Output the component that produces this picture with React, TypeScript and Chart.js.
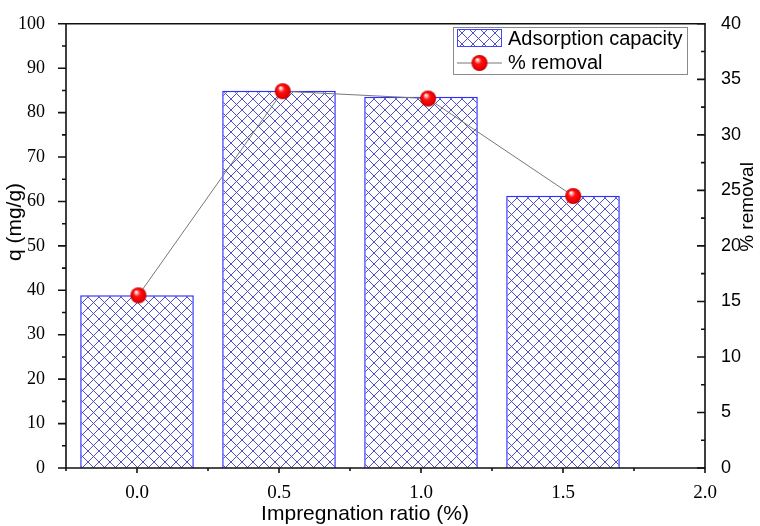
import React, { useEffect, useRef } from 'react';
import { Chart, registerables } from 'chart.js';

Chart.register(...registerables);

// ---- data ----
const barX = [0, 0.5, 1.0, 1.5];
const capacity = [38.9, 84.9, 83.6, 61.3];
const removalX = [0.005, 0.513, 1.025, 1.536];
const removal = [15.55, 33.93, 33.27, 24.49];
const xTickValues = [0, 0.5, 1.0, 1.5, 2.0];
const xMinorValues = [-0.25, 0.25, 0.75, 1.25, 1.75];
const leftTickValues = [0, 10, 20, 30, 40, 50, 60, 70, 80, 90, 100];
const rightTickValues = [0, 5, 10, 15, 20, 25, 30, 35, 40];
const barLabel = 'Adsorption capacity';
const lineLabel = '% removal';
const xTitle = 'Impregnation ratio (%)';
const yTitle = 'q (mg/g)';
const y2Title = '% removal';

const SERIF = "'Liberation Serif', 'Times New Roman', serif";
const SANS = "'Liberation Sans', Arial, sans-serif";

function makeHatchTile(): HTMLCanvasElement {
  const w = 11;
  const c = document.createElement('canvas');
  c.width = w;
  c.height = w;
  const g = c.getContext('2d')!;
  g.fillStyle = '#ffffff';
  g.fillRect(0, 0, w, w);
  g.strokeStyle = 'rgba(70, 70, 200, 0.95)';
  g.lineWidth = 1;
  g.beginPath();
  g.moveTo(-2, -2);
  g.lineTo(w + 2, w + 2);
  g.moveTo(-2, w + 2);
  g.lineTo(w + 2, -2);
  g.stroke();
  return c;
}

function makeSphere(r: number): HTMLCanvasElement {
  const s = Math.ceil(r * 2 + 2);
  const c = document.createElement('canvas');
  c.width = s;
  c.height = s;
  const g = c.getContext('2d')!;
  const cx = s / 2;
  const cy = s / 2;
  const grad = g.createRadialGradient(cx - r * 0.3, cy - r * 0.45, r * 0.05, cx, cy, r);
  grad.addColorStop(0, '#ffffff');
  grad.addColorStop(0.18, '#ff9a9a');
  grad.addColorStop(0.4, '#ff1010');
  grad.addColorStop(0.85, '#e60000');
  grad.addColorStop(1, '#b00000');
  g.fillStyle = grad;
  g.beginPath();
  g.arc(cx, cy, r, 0, Math.PI * 2);
  g.fill();
  return c;
}

export default function App() {
  const ref = useRef<HTMLCanvasElement | null>(null);

  useEffect(() => {
    const canvas = ref.current!;
    const ctx0 = canvas.getContext('2d')!;
    const pattern = ctx0.createPattern(makeHatchTile(), 'repeat')!;
    const sphere = makeSphere(8);

    const framePlugin = {
      id: 'framePlugin',
      afterDraw(chart: any) {
        const { ctx, chartArea: a, scales } = chart;
        const xs = scales.x;
        const yl = scales.y;
        const yr = scales.y2;
        ctx.save();
        ctx.strokeStyle = '#111111';
        ctx.lineWidth = 1.6;
        ctx.beginPath();
        ctx.rect(a.left, a.top, a.right - a.left, a.bottom - a.top);
        ctx.stroke();
        ctx.beginPath();
        // left ticks (outward)
        for (let v = 0; v <= 100; v += 5) {
          const p = yl.getPixelForValue(v);
          const len = v % 10 === 0 ? 8 : 4;
          ctx.moveTo(a.left - len, p);
          ctx.lineTo(a.left, p);
        }
        // right ticks (inward)
        for (let v = 0; v <= 40; v += 2.5) {
          const p = yr.getPixelForValue(v);
          const len = v % 5 === 0 ? 8 : 4;
          ctx.moveTo(a.right - len, p);
          ctx.lineTo(a.right, p);
        }
        // bottom ticks (outward)
        xTickValues.forEach((v) => {
          const p = xs.getPixelForValue(v);
          ctx.moveTo(p, a.bottom);
          ctx.lineTo(p, a.bottom + 5);
        });
        xMinorValues.forEach((v) => {
          const p = xs.getPixelForValue(v);
          ctx.moveTo(p, a.bottom);
          ctx.lineTo(p, a.bottom + 3);
        });
        ctx.stroke();

        // axis titles
        ctx.fillStyle = '#000';
        ctx.textAlign = 'center';
        ctx.textBaseline = 'middle';
        ctx.font = `21px ${SANS}`;
        ctx.fillText(xTitle, 365, 514);
        ctx.save();
        ctx.translate(15, 222);
        ctx.rotate(-Math.PI / 2);
        ctx.fillText(yTitle, 0, 0);
        ctx.restore();
        ctx.save();
        ctx.font = `19px ${SANS}`;
        ctx.translate(748, 207);
        ctx.rotate(-Math.PI / 2);
        ctx.fillText(y2Title, 0, 0);
        ctx.restore();

        // legend
        ctx.lineWidth = 1;
        ctx.strokeStyle = '#8a8a8a';
        ctx.fillStyle = '#ffffff';
        ctx.fillRect(453.5, 27.5, 234, 47);
        ctx.strokeRect(453.5, 27.5, 234, 47);
        ctx.fillStyle = pattern;
        ctx.fillRect(457, 29.5, 45, 17);
        ctx.strokeStyle = '#4444ff';
        ctx.strokeRect(457.5, 29.5, 44, 17);
        ctx.strokeStyle = '#777777';
        ctx.beginPath();
        ctx.moveTo(457, 63);
        ctx.lineTo(502, 63);
        ctx.stroke();
        ctx.drawImage(sphere, 479.5 - sphere.width / 2, 63 - sphere.height / 2);
        ctx.fillStyle = '#000';
        ctx.textAlign = 'left';
        ctx.font = `20px ${SANS}`;
        ctx.fillText(barLabel, 508, 39);
        ctx.fillText(lineLabel, 508, 63);
        ctx.restore();
      },
    };

    const chart = new Chart(canvas, {
      type: 'bar',
      data: {
        datasets: [
          {
            type: 'bar',
            label: barLabel,
            data: barX.map((x, i) => ({ x, y: capacity[i] })),
            backgroundColor: pattern as any,
            borderColor: '#2f2fff',
            borderWidth: 1.5,
            barPercentage: 0.8,
            categoryPercentage: 1,
            yAxisID: 'y',
            order: 2,
          } as any,
          {
            type: 'line',
            label: lineLabel,
            data: removalX.map((x, i) => ({ x, y: removal[i] })),
            borderColor: '#777777',
            borderWidth: 1,
            pointStyle: sphere as any,
            pointRadius: 8,
            pointHoverRadius: 8,
            yAxisID: 'y2',
            order: 1,
          } as any,
        ],
      },
      options: {
        responsive: false,
        animation: false,
        layout: { padding: { top: 20, left: 0, right: 0, bottom: 0 } },
        plugins: {
          legend: { display: false },
          tooltip: { enabled: false },
        },
        scales: {
          x: {
            type: 'linear',
            min: -0.25,
            max: 2.0,
            offset: false,
            grid: { display: false },
            border: { display: false },
            afterBuildTicks: (s: any) => {
              s.ticks = xTickValues.map((v) => ({ value: v }));
            },
            afterFit: (s: any) => {
              s.height = 58;
            },
            ticks: {
              autoSkip: false,
              maxRotation: 0,
              padding: 6,
              color: '#000',
              font: { family: SERIF, size: 19 },
              callback: (v: any) => Number(v).toFixed(1),
            },
          },
          y: {
            type: 'linear',
            position: 'left',
            min: 0,
            max: 100,
            grid: { display: false },
            border: { display: false },
            afterBuildTicks: (s: any) => {
              s.ticks = leftTickValues.map((v) => ({ value: v }));
            },
            afterFit: (s: any) => {
              s.width = 66;
            },
            ticks: {
              padding: 13,
              color: '#000',
              font: { family: SERIF, size: 18 },
            },
          },
          y2: {
            type: 'linear',
            position: 'right',
            min: 0,
            max: 40,
            grid: { display: false },
            border: { display: false },
            afterBuildTicks: (s: any) => {
              s.ticks = rightTickValues.map((v) => ({ value: v }));
            },
            afterFit: (s: any) => {
              s.width = 55;
            },
            ticks: {
              padding: 8,
              color: '#000',
              font: { family: SANS, size: 18 },
            },
          },
        },
      } as any,
      plugins: [framePlugin],
    });

    return () => chart.destroy();
  }, []);

  return (
    <div style={{ position: 'absolute', left: 0, top: 0, width: 760, height: 526, background: '#fff' }}>
      <canvas ref={ref} width={760} height={526} style={{ display: 'block', width: 760, height: 526 }} />
    </div>
  );
}
